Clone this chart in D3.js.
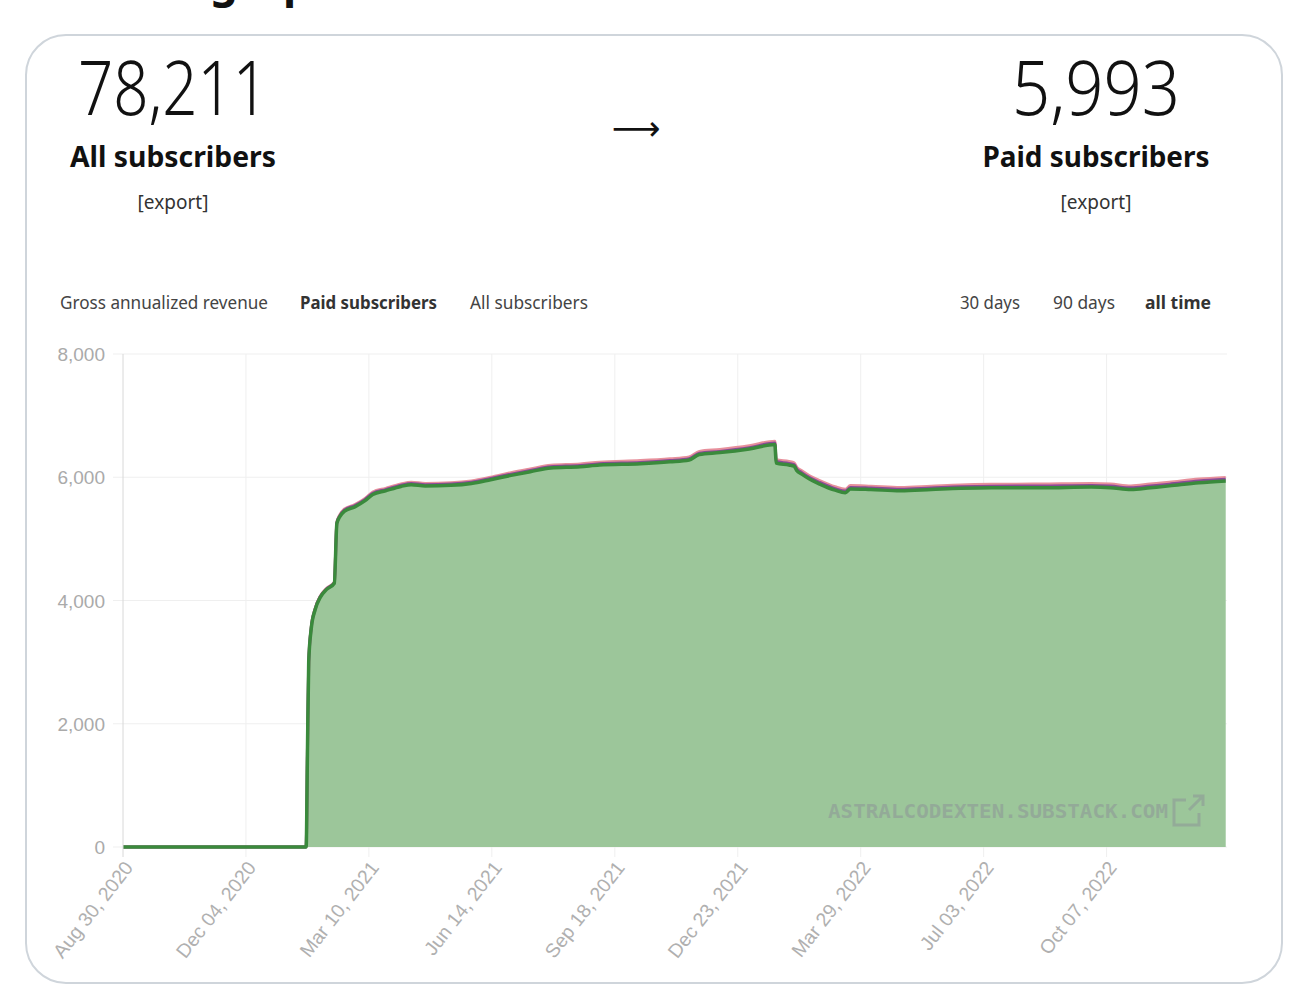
<!DOCTYPE html>
<html>
<head>
<meta charset="utf-8">
<script src="https://cdn.jsdelivr.net/npm/d3@7"></script>
<style>
  body { margin: 0; background: #fff; }
  svg { display: block; }
</style>
</head>
<body>
<script>
// datos
const fechas = [
  "2020-08-30", "2021-01-20", "2021-01-21", "2021-01-22", "2021-01-24", "2021-01-27",
  "2021-01-31", "2021-02-05", "2021-02-11", "2021-02-13", "2021-02-15", "2021-02-19",
  "2021-02-27", "2021-03-07", "2021-03-13", "2021-03-23", "2021-04-04", "2021-04-12",
  "2021-04-23", "2021-05-13", "2021-05-29", "2021-06-13", "2021-06-29", "2021-07-14",
  "2021-07-30", "2021-08-22", "2021-09-06", "2021-10-08", "2021-10-31", "2021-11-15",
  "2021-11-23", "2021-12-09", "2022-01-01", "2022-01-21", "2022-01-22", "2022-02-01",
  "2022-02-05", "2022-02-07", "2022-02-11", "2022-02-17", "2022-02-25", "2022-03-09",
  "2022-03-17", "2022-03-21", "2022-04-06", "2022-04-29", "2022-05-23", "2022-06-15",
  "2022-07-09", "2022-08-17", "2022-09-25", "2022-10-10", "2022-10-26", "2022-11-10",
  "2022-11-25", "2022-12-18", "2023-01-08"
];
const pagosVerde = [
  0, 0, 1500, 3000, 3550, 3850,
  4050, 4180, 4280, 5250, 5350, 5450,
  5520, 5620, 5720, 5780, 5850, 5880,
  5860, 5870, 5900, 5960, 6030, 6090,
  6150, 6170, 6200, 6220, 6250, 6280,
  6370, 6400, 6460, 6530, 6230, 6200,
  6180, 6110, 6050, 5970, 5890, 5790,
  5750, 5810, 5800, 5780, 5800, 5820,
  5830, 5830, 5840, 5830, 5800, 5830,
  5860, 5910, 5940
];
const pagosMorado = [
  0, 0, 1500, 3000, 3560, 3860,
  4060, 4190, 4290, 5260, 5365, 5470,
  5540, 5640, 5740, 5800, 5870, 5900,
  5880, 5890, 5920, 5980, 6050, 6110,
  6170, 6190, 6220, 6240, 6270, 6300,
  6390, 6420, 6480, 6555, 6255, 6225,
  6205, 6135, 6075, 5995, 5915, 5815,
  5775, 5835, 5825, 5805, 5825, 5845,
  5855, 5858, 5868, 5858, 5828, 5858,
  5888, 5940, 5968
];
const pagosRosa = [
  0, 0, 1500, 3000, 3570, 3870,
  4070, 4200, 4300, 5270, 5380, 5485,
  5555, 5655, 5760, 5820, 5890, 5920,
  5900, 5910, 5940, 6000, 6075, 6135,
  6195, 6215, 6245, 6270, 6300, 6330,
  6420, 6450, 6510, 6585, 6285, 6255,
  6235, 6165, 6105, 6025, 5945, 5845,
  5805, 5865, 5855, 5835, 5855, 5875,
  5885, 5890, 5900, 5890, 5860, 5890,
  5920, 5970, 5998
];
const etiquetasX = [
  "Aug 30, 2020", "Dec 04, 2020", "Mar 10, 2021", "Jun 14, 2021", "Sep 18, 2021",
  "Dec 23, 2021", "Mar 29, 2022", "Jul 03, 2022", "Oct 07, 2022"
];
const ticksY = [0, 2000, 4000, 6000, 8000];
const pestanas = ["Gross annualized revenue", "Paid subscribers", "All subscribers"];
const rangos = ["30 days", "90 days", "all time"];

const parseFecha = d3.utcParse("%Y-%m-%d");
const parseEtiqueta = d3.utcParse("%b %d, %Y");

const datos = fechas.map((f, i) => ({
  fecha: parseFecha(f),
  verde: pagosVerde[i],
  morado: pagosMorado[i],
  rosa: pagosRosa[i]
}));

const width = 1298;
const height = 1000;
const fuente = "'Noto Sans', 'Open Sans', sans-serif";

const svg = d3.select("body").append("svg")
  .attr("width", width)
  .attr("height", height);

// titulo de la pagina, queda casi fuera por arriba
svg.append("text").attr("x", 198).attr("y", -3)
  .attr("text-anchor", "end")
  .style("font", `bold 44px ${fuente}`).attr("fill", "#111")
  .text("Subscriber");
svg.append("text").attr("x", 210).attr("y", -3)
  .style("font", `bold 44px ${fuente}`).attr("fill", "#111")
  .text("graph");

// tarjeta
svg.append("rect")
  .attr("x", 26).attr("y", 35)
  .attr("width", 1256).attr("height", 948)
  .attr("rx", 40)
  .attr("fill", "#fff")
  .attr("stroke", "#cfd5db")
  .attr("stroke-width", 2);

// cabecera
function numeroGrande(x, txt, largo) {
  svg.append("text").attr("x", x).attr("y", 115)
    .attr("text-anchor", "middle")
    .attr("textLength", largo).attr("lengthAdjust", "spacingAndGlyphs")
    .style("font", `300 76px ${fuente}`).attr("fill", "#111")
    .text(txt);
}
numeroGrande(173, "78,211", 190);
numeroGrande(1096, "5,993", 168);

function etiquetaGrande(x, txt, largo) {
  svg.append("text").attr("x", x).attr("y", 167)
    .attr("text-anchor", "middle")
    .attr("textLength", largo).attr("lengthAdjust", "spacingAndGlyphs")
    .style("font", `bold 28px ${fuente}`).attr("fill", "#111")
    .text(txt);
  svg.append("text").attr("x", x).attr("y", 209)
    .attr("text-anchor", "middle")
    .style("font", `19px ${fuente}`).attr("fill", "#333")
    .text("[export]");
}
etiquetaGrande(173, "All subscribers", 206);
etiquetaGrande(1096, "Paid subscribers", 227);

svg.append("text").attr("x", 636).attr("y", 140)
  .attr("text-anchor", "middle")
  .style("font", "34px 'DejaVu Sans', sans-serif").attr("fill", "#111")
  .text("\u27F6");

// pestanas
const posPestanas = [[60, 208], [300, 137], [470, 118]];
pestanas.forEach((t, i) => {
  svg.append("text").attr("x", posPestanas[i][0]).attr("y", 309)
    .attr("textLength", posPestanas[i][1]).attr("lengthAdjust", "spacingAndGlyphs")
    .style("font", `${i === 1 ? "bold " : ""}18px ${fuente}`)
    .attr("fill", i === 1 ? "#333" : "#444")
    .text(t);
});
const posRangos = [[960, 60], [1053, 62], [1145, 66]];
rangos.forEach((t, i) => {
  svg.append("text").attr("x", posRangos[i][0]).attr("y", 309)
    .attr("textLength", posRangos[i][1]).attr("lengthAdjust", "spacingAndGlyphs")
    .style("font", `${i === 2 ? "bold " : ""}18px ${fuente}`)
    .attr("fill", i === 2 ? "#333" : "#444")
    .text(t);
});

// escalas
const x = d3.scaleUtc()
  .domain([parseFecha("2020-08-30"), parseFecha("2023-01-09")])
  .range([123, 1227]);
const y = d3.scaleLinear().domain([0, 8000]).range([847, 354]);
const fechasTicks = etiquetasX.map(parseEtiqueta);

// rejilla
const g = svg.append("g");
g.selectAll(".gy").data(ticksY).join("line")
  .attr("x1", 113).attr("x2", 1227)
  .attr("y1", (d) => y(d)).attr("y2", (d) => y(d))
  .attr("stroke", "#efefef").attr("stroke-width", 1);
g.selectAll(".gx").data(fechasTicks.slice(1)).join("line")
  .attr("x1", (d) => x(d)).attr("x2", (d) => x(d))
  .attr("y1", 354).attr("y2", 857)
  .attr("stroke", "#efefef").attr("stroke-width", 1);

// area y lineas
const area = d3.area()
  .x((d) => x(d.fecha))
  .y0(y(0))
  .y1((d) => y(d.verde))
  .curve(d3.curveMonotoneX);
g.append("path").datum(datos)
  .attr("d", area)
  .attr("fill", "#9cc69a");

function linea(campo, color, ancho) {
  const gen = d3.line()
    .x((d) => x(d.fecha))
    .y((d) => y(d[campo]))
    .curve(d3.curveMonotoneX);
  g.append("path").datum(datos)
    .attr("d", gen)
    .attr("fill", "none")
    .attr("stroke", color)
    .attr("stroke-width", ancho)
    .attr("stroke-linejoin", "round");
}
linea("rosa", "#e7909c", 3);
linea("morado", "#8a4a98", 3);
linea("verde", "#3a8a3c", 3.5);

// eje izquierdo
g.append("line")
  .attr("x1", 123).attr("x2", 123).attr("y1", 354).attr("y2", 857)
  .attr("stroke", "#d8d8d8");

g.selectAll(".ty").data(ticksY).join("text")
  .attr("x", 105).attr("y", (d) => y(d) + 7)
  .attr("text-anchor", "end")
  .style("font", "19px 'Liberation Sans', Arial, sans-serif")
  .attr("fill", "#aaa")
  .text((d) => d3.format(",")(d));

g.selectAll(".tx").data(fechasTicks).join("text")
  .attr("text-anchor", "end")
  .attr("transform", (d) => `translate(${x(d) + 11},${868}) rotate(-52)`)
  .style("font", "19.5px 'Liberation Sans', Arial, sans-serif")
  .attr("fill", "#b0b0b0")
  .text((d, i) => etiquetasX[i]);

// marca de agua
g.append("text").attr("x", 828).attr("y", 818)
  .attr("textLength", 340).attr("lengthAdjust", "spacingAndGlyphs")
  .style("font", "bold 20px 'DejaVu Sans Mono', monospace")
  .attr("fill", "#8a8a96").attr("opacity", 0.45)
  .text("ASTRALCODEXTEN.SUBSTACK.COM");
g.append("path")
  .attr("d", "M1186,800 H1174 V825 H1199 V813 M1189,810 L1203,796 M1193,796 H1203 V806")
  .attr("fill", "none")
  .attr("stroke", "#8a8a96").attr("stroke-width", 3)
  .attr("opacity", 0.45);
</script>
</body>
</html>
